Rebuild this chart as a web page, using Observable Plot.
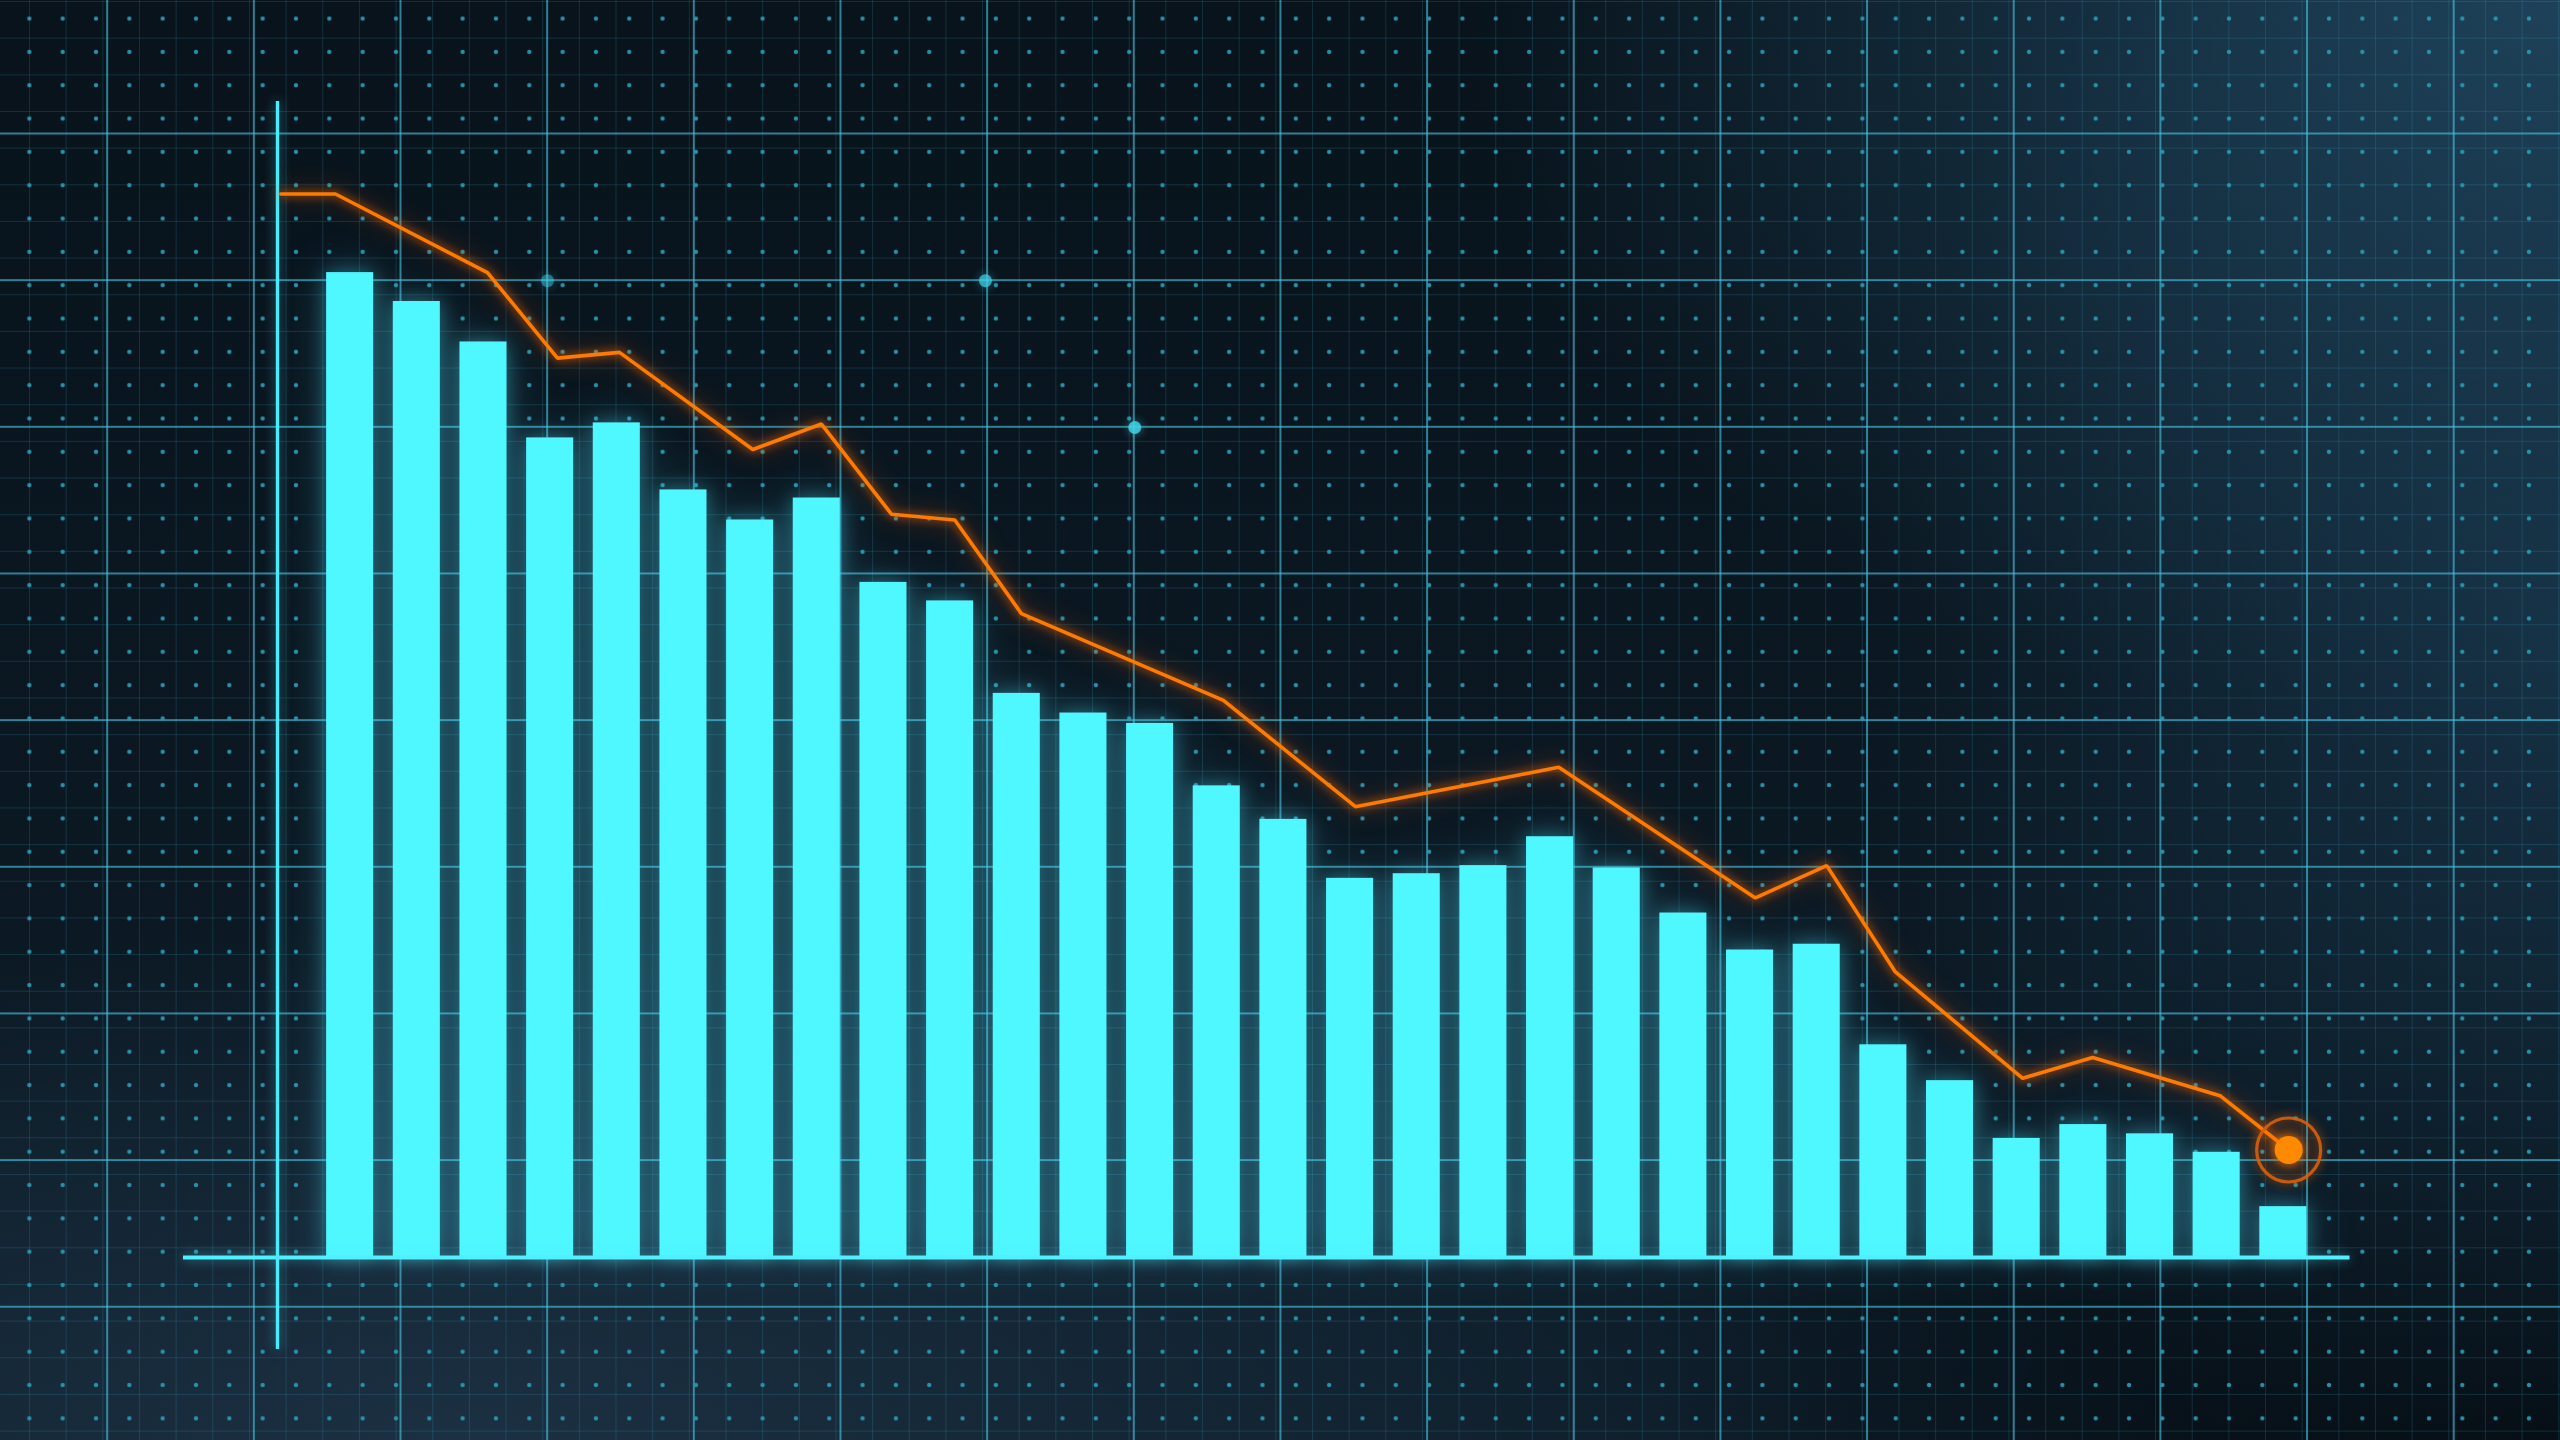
<!DOCTYPE html>
<html>
<head>
<meta charset="utf-8">
<script src="https://cdn.jsdelivr.net/npm/d3@7"></script>
<script src="https://cdn.jsdelivr.net/npm/@observablehq/plot@0.6"></script>
<style>
html, body { margin: 0; padding: 0; width: 2560px; height: 1440px; overflow: hidden; background: #0a1721; }
#bg {
  position: absolute; left: 0; top: 0; width: 2560px; height: 1440px;
  background:
    radial-gradient(circle, rgba(42,150,175,0.95) 0, rgba(42,150,175,0.95) 1.7px, rgba(42,150,175,0) 2.6px) 12.7px 1.9px / 33.333px 33.333px,
    linear-gradient(90deg, rgba(70,195,225,0.62) 0, rgba(70,195,225,0.62) 1.6px, rgba(0,0,0,0) 1.6px) 106.2px 0 / 146.667px 100%,
    linear-gradient(180deg, rgba(70,195,225,0.62) 0, rgba(70,195,225,0.62) 1.6px, rgba(0,0,0,0) 1.6px) 0 132.5px / 100% 146.667px,
    linear-gradient(90deg, rgba(55,160,190,0.2) 0, rgba(55,160,190,0.2) 1px, rgba(0,0,0,0) 1px) 29px 0 / 36.667px 100%,
    linear-gradient(180deg, rgba(55,160,190,0.2) 0, rgba(55,160,190,0.2) 1px, rgba(0,0,0,0) 1px) 0 1px / 100% 36.667px,
    radial-gradient(ellipse 1100px 760px at 100% 0%, rgba(30,66,90,1) 0%, rgba(30,66,90,0) 100%),
    radial-gradient(ellipse 700px 900px at 100% 45%, rgba(22,50,70,0.9) 0%, rgba(22,50,70,0) 100%),
    radial-gradient(ellipse 1400px 520px at 18% 100%, rgba(27,48,66,1) 0%, rgba(27,48,66,0) 100%),
    radial-gradient(ellipse 900px 560px at 100% 100%, rgba(4,10,15,1) 0%, rgba(4,10,15,0) 100%),
    linear-gradient(180deg, #08131b 0%, #0d1c28 100%);
}
#chart { position: absolute; left: 0; top: 0; }
</style>
</head>
<body>
<div id="bg"></div>
<div id="chart"></div>
<script>
// ---- data ----
const barValues = [85.2, 82.7, 79.2, 70.9, 72.2, 66.4, 63.8, 65.7, 58.4, 56.8,
                   48.8, 47.1, 46.2, 40.8, 37.9, 32.8, 33.2, 33.9, 36.4, 33.7,
                   29.8, 26.6, 27.1, 18.4, 15.3, 10.3, 11.5, 10.7, 9.1, 4.4];
const lineX = [-1.04, -0.22, 2.06, 3.11, 4.04, 6.04, 7.07, 8.12, 9.07, 10.07,
               13.10, 15.08, 18.13, 21.08, 22.15, 23.18, 25.09, 26.14, 28.05, 29.08];
const lineY = [92.0, 92.0, 85.2, 77.8, 78.3, 69.9, 72.1, 64.3, 63.8, 55.7,
               48.2, 39.0, 42.4, 31.1, 33.9, 24.7, 15.5, 17.3, 14.0, 9.3];
const glintX = [2.96, 9.53, 11.77];
const glintY = [84.5, 84.5, 71.8];
const xDomain = [-2.5, 30];
const yDomain = [0, 100];
const axisXPos = [-1.09];
const axisYSpan = [100, -7.96];

// ---- tables built from the arrays ----
const bars = barValues.map((v, i) => ({i, v}));
const line = lineX.map((x, k) => ({x, y: lineY[k]}));
const last = [line[line.length - 1]];
const glints = glintX.map((x, k) => ({x, y: glintY[k], k}));
const halfBar = 0.353;
const glintOpacity = [0.45, 0.7, 0.85];

const plot = Plot.plot({
  width: 2560,
  height: 1440,
  marginLeft: 183,
  marginRight: 210.5,
  marginTop: 101,
  marginBottom: 183,
  style: "background:transparent;overflow:visible;max-width:none;",
  x: {domain: xDomain, axis: null},
  y: {domain: yDomain, axis: null},
  marks: [
    Plot.dot(glints, {x: "x", y: "y", r: 6.5, fill: "#3fd2e6", fillOpacity: d => glintOpacity[d.k]}),
    Plot.rectY(bars, {x1: d => d.i - halfBar, x2: d => d.i + halfBar, y: "v", fill: "#4ff7ff"}),
    Plot.ruleY([0], {x1: xDomain[0], x2: xDomain[1], stroke: "#4ff0ff", strokeWidth: 3.8}),
    Plot.ruleX(axisXPos, {y1: axisYSpan[0], y2: axisYSpan[1], stroke: "#48ecfa", strokeWidth: 3.4}),
    Plot.line(line, {x: "x", y: "y", stroke: "#ff7a00", strokeWidth: 3.6, strokeLinejoin: "miter"}),
    Plot.dot(last, {x: "x", y: "y", r: 32, stroke: "#d8600c", strokeWidth: 3.2, strokeOpacity: 0.9, fill: "none"}),
    Plot.dot(last, {x: "x", y: "y", r: 14, fill: "#ff8a00", stroke: "none"})
  ]
});
document.getElementById("chart").appendChild(plot);

// glow effects
const svg = d3.select(plot);
const groups = svg.selectAll(":scope > g").nodes();
groups.forEach(g => {
  const label = g.getAttribute("aria-label");
  if (label === "rect") g.style.filter = "drop-shadow(0 0 10px rgba(80,230,255,0.38)) drop-shadow(0 0 24px rgba(80,220,255,0.2))";
  if (label === "rule") g.style.filter = "drop-shadow(0 0 6px rgba(80,230,255,0.55))";
  if (label === "line") g.style.filter = "drop-shadow(0 0 5px rgba(255,110,0,0.9)) drop-shadow(0 0 12px rgba(255,90,0,0.4))";
});
const dotGroups = groups.filter(g => g.getAttribute("aria-label") === "dot");
if (dotGroups[0]) dotGroups[0].style.filter = "drop-shadow(0 0 5px rgba(70,210,230,0.6))";
if (dotGroups[1]) dotGroups[1].style.filter = "drop-shadow(0 0 5px rgba(255,110,0,0.7))";
if (dotGroups[2]) dotGroups[2].style.filter = "drop-shadow(0 0 6px rgba(255,120,0,0.9)) drop-shadow(0 0 14px rgba(255,100,0,0.5))";
</script>
</body>
</html>
